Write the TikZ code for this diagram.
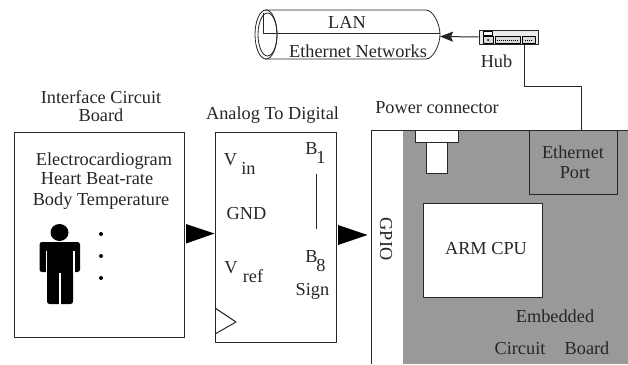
\documentclass[tikz,border=0pt]{standalone}
\usepackage{fontspec}
\setmainfont{Liberation Serif}
\tikzset{>=stealth}
\usetikzlibrary{arrows.meta, positioning}
\definecolor{boardgray}{gray}{0.6}
\tikzset{
    block/.style={draw=black!85, line width=0.8pt},
    label/.style={font=\fontsize{18.3pt}{20pt}\selectfont, inner sep=0pt, text=black!85},
    wire/.style={line width=1pt, draw=black!85}
}
\begin{document}
\begin{tikzpicture}[x=1pt,y=-1pt,line join=round]
    \useasboundingbox (0,0) rectangle (628,364);
    \fill[white] (0,0) rectangle (628,364);

    % LAN cylinder
    \draw[block] (265,10) -- (426,10) .. controls (433,10) and (440,24) .. (440,34.5) .. controls (440,45) and (433,59) .. (426,59) -- (265,59);
    \draw[block] (266,34.5) ellipse (11 and 24.5);
    \draw[block] (267.5,34.5) ellipse (9.5 and 21.5);
    \coordinate (lanend) at (263,13);
    \coordinate (lanside) at (440,33.5);
    \coordinate (lanport) at (440,36.5);
    \draw[wire] (lanend) |- (lanside);
    \node[label] (lan) at (347,22) {LAN};
    \node[label] (ethnet) at (358,51) {Ethernet Networks};

    % Hub
    \node[block, fill=black!8, minimum width=59pt, minimum height=14pt, inner sep=0pt] (hub) at (508.5,37) {};
    \draw[line width=0.5pt, fill=white] (483,31) rectangle (492,35);
    \draw[line width=0.5pt, fill=black!15] (483,36) rectangle (493,43);
    \draw[line width=0.5pt, fill=black!15] (495,36) rectangle (520,43);
    \draw[line width=0.5pt, fill=black!15] (522,36) rectangle (535,43);
    \draw[line width=1pt, densely dotted] (497,40) -- (518,40);
    \draw[line width=1pt, densely dotted] (525,40) -- (533,40);
    \fill (488,40) circle (1pt);
    \node[label] (hublabel) at (496.5,61) {Hub};
    \draw[-{Stealth[length=13pt,width=10pt,inset=2pt]}, wire] (hub.west) -- (lanport);

    % Hub to port
    \coordinate (hubout) at (524,44);
    \coordinate (hubbend) at (524,86.5);
    \coordinate (porttop) at (581,130);
    \draw[wire] (hubout) -- (hubbend) -| (porttop);

    % Interface board
    \node[label] (ifacetitle) at (101,97) {Interface Circuit};
    \node[label] (ifacetitleb) at (101,115) {Board};
    \draw[block] (14.5,132) rectangle (184,337);
    \node[label] (ecg) at (104,161) {Electrocardiogram};
    \node[label] (hbr) at (97,179) {Heart Beat-rate};
    \node[label] (temp) at (101,201) {Body Temperature};

    % Person
    \fill (59.5,232.5) ellipse (9 and 8.5);
    \fill[rounded corners=2.5pt] (39.5,242) rectangle (80,272);
    \fill[rounded corners=2.5pt] (47,245) rectangle (73,304);
    \fill[white] (45.5,251) rectangle (47,273);
    \fill[white] (73,251) rectangle (74.5,273);
    \fill[white] (59.3,273) rectangle (60.7,305);
    \fill (101,234) circle (2pt);
    \fill (101,256) circle (2pt);
    \fill (101,278) circle (2pt);

    % Analog to digital
    \node[label] (adctitle) at (272.5,115) {Analog To Digital};
    \draw[block] (215,132) rectangle (336,342);
    \node[label] (vin) at (230.5,160) {V};
    \node[label] (vinsub) at (248.5,168) {in};
    \node[label] (gnd) at (246.5,214) {GND};
    \node[label] (vref) at (231,268) {V};
    \node[label] (vrefsub) at (253,276) {ref};
    \node[label] (bone) at (311.5,149) {B};
    \node[label] (bonesub) at (321,157) {1};
    \node[label] (beight) at (311.5,257) {B};
    \node[label] (beightsub) at (321,265) {8};
    \node[label] (sign) at (312.5,291) {Sign};
    \draw[wire] (316.5,174) -- (316.5,229);
    \draw[wire] (215,308) -- (236,322) -- (215,334);

    % Big arrows
    \coordinate (tipadc) at (214.5,233.5);
    \coordinate (tipgpio) at (367.5,235);
    \fill[black] (186,224) -- (tipadc) -- (186,243.5) -- cycle;
    \fill[black] (338,225) -- (tipgpio) -- (338,245) -- cycle;

    % Embedded board
    \fill[boardgray] (403,130) rectangle (628,364);
    \draw[block] (371,364) -- (371,130) -- (628,130);
    \node[label] (powerlabel) at (437,108) {Power connector};
    \node[label, rotate=-90] (gpio) at (386,239) {GPIO};
    \draw[block, fill=white] (415,130) rectangle (458,142);
    \draw[block, fill=white] (426,142) rectangle (447,173);
    \draw[block] (529,130) rectangle (617,194);
    \node[label] (ethporta) at (573,152) {Ethernet};
    \node[label] (ethportb) at (575,173) {Port};
    \node[block, fill=white, minimum width=119pt, minimum height=94pt, inner sep=0pt] (cpu) at (482.5,250) {};
    \node[label] (cpulabel) at (486,249) {ARM CPU};
    \node[label] (emb) at (555,316) {Embedded};
    \node[label, anchor=base] (circ) at (520,354) {Circuit};
    \node[label, anchor=base] (brd) at (587,354) {Board};
\end{tikzpicture}
\end{document}
